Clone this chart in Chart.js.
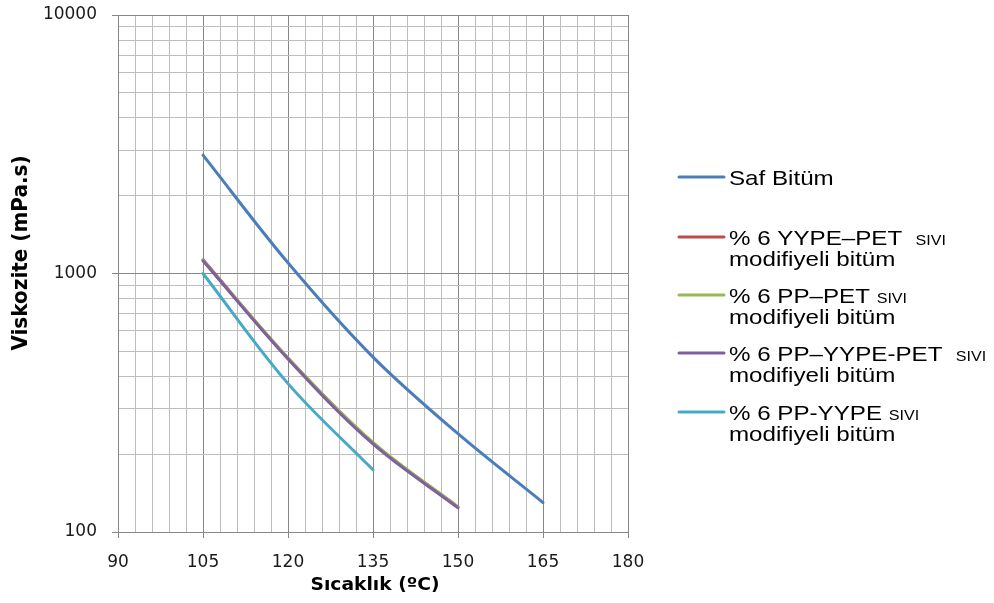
<!DOCTYPE html>
<html>
<head>
<meta charset="utf-8">
<script src="https://cdn.jsdelivr.net/npm/chart.js@4.4.0/dist/chart.umd.min.js"></script>
<style>
    html, body { margin: 0; padding: 0; background: #fff; }
</style>
</head>
<body>
<canvas id="viskChart" width="994" height="603"></canvas>
<script>
const temps = [105, 120, 135, 150, 165];
const safBitum = [2870, 1100, 475, 240, 130];
const yypePet = [1130, 471, 221, 125];
const ppPet = [1126, 471, 222, 125];
const ppYypePet = [1120, 467, 219, 124];
const ppYype = [1000, 375, 174];

const seriesLabels = [
    ["Saf Bitüm"],
    ["% 6 YYPE–PET  sıvı", "modifiyeli bitüm"],
    ["% 6 PP–PET sıvı", "modifiyeli bitüm"],
    ["% 6 PP–YYPE-PET  sıvı", "modifiyeli bitüm"],
    ["% 6 PP-YYPE sıvı", "modifiyeli bitüm"]
];
const seriesColors = ["#4A7EBB", "#BE4B48", "#98B954", "#7D60A0", "#46AAC5"];
const xTickLabels = [90, 105, 120, 135, 150, 165, 180];
const yTickLabels = [100, 1000, 10000];
const xTitle = "Sıcaklık (ºC)";
const yTitle = "Viskozite (mPa.s)";

const majorGrid = "#878787";
const minorGrid = "#bdbdbd";

// grid positions: every 3 degrees, log minors 2..9 per decade
const xGrid = [];
for (let t = 90; t <= 180; t += 3) xGrid.push(t);
const yGrid = [];
[100, 1000].forEach(d => { for (let k = 1; k < 10; k++) yGrid.push(d * k); });
yGrid.push(10000);

const allSeries = [safBitum, yypePet, ppPet, ppYypePet, ppYype];

const datasets = allSeries.map((vals, i) => ({
    label: seriesLabels[i].join(" "),
    data: vals.map((v, j) => ({ x: temps[j], y: v })),
    borderColor: seriesColors[i],
    backgroundColor: seriesColors[i],
    borderWidth: 3,
    borderCapStyle: "round",
    pointRadius: 0,
    tension: 0.35,
    fill: false,
    order: allSeries.length - i
}));

const overlay = {
    id: "overlay",
    afterDraw(chart) {
        const ctx = chart.ctx;
        ctx.save();
        ctx.fillStyle = "#000";
        ctx.font = 'bold 17px "DejaVu Sans"';
        ctx.textAlign = "center";
        ctx.textBaseline = "middle";
        ctx.save();
        ctx.translate(375, 586);
        ctx.scale(1.1, 1);
        ctx.fillText(xTitle, 0, 0);
        ctx.restore();

        ctx.save();
        ctx.font = 'bold 20px "DejaVu Sans"';
        ctx.translate(22, 253);
        ctx.scale(1.05, 1);
        ctx.rotate(-Math.PI / 2);
        ctx.fillText(yTitle, 0, 0);
        ctx.restore();

        // legend
        const rows = [177, 237, 295, 353, 412];
        ctx.textAlign = "left";
        ctx.textBaseline = "alphabetic";
        seriesLabels.forEach((lines, i) => {
            const y = rows[i];
            ctx.strokeStyle = seriesColors[i];
            ctx.lineWidth = 3;
            ctx.lineCap = "round";
            ctx.beginPath();
            ctx.moveTo(679, y);
            ctx.lineTo(724, y);
            ctx.stroke();

            lines.forEach((line, k) => {
                ctx.save();
                ctx.translate(729, y + 8 + k * 21);
                ctx.scale(1.15, 1);
                let cx = 0;
                line.split(/(sıvı)/).forEach(part => {
                    if (!part) return;
                    if (part === "sıvı") {
                        ctx.font = '14px "Liberation Sans"';
                        part = part.toLocaleUpperCase("tr-TR");
                    } else {
                        ctx.font = '21px "Liberation Sans"';
                    }
                    ctx.fillText(part, cx, 0);
                    cx += ctx.measureText(part).width;
                });
                ctx.restore();
            });
        });
        ctx.restore();
    }
};

new Chart(document.getElementById("viskChart"), {
    type: "line",
    data: { datasets: datasets },
    options: {
        responsive: false,
        animation: false,
        devicePixelRatio: 1,
        layout: { padding: { left: 0, top: 15, right: 366, bottom: 0 } },
        plugins: {
            legend: { display: false },
            tooltip: { enabled: false }
        },
        scales: {
            x: {
                type: "linear",
                min: 90,
                max: 180,
                afterBuildTicks: s => { s.ticks = xGrid.map(v => ({ value: v })); },
                afterFit: s => { s.height = 71; s.paddingLeft = 0; s.paddingRight = 0; },
                ticks: {
                    autoSkip: false,
                    maxRotation: 0,
                    padding: 14,
                    color: "#1a1a1a",
                    font: { family: "DejaVu Sans", size: 17 },
                    callback: v => xTickLabels.includes(v) ? String(v) : ""
                },
                grid: {
                    color: c => c.tick && xTickLabels.includes(c.tick.value) ? majorGrid : minorGrid,
                    tickColor: c => c.tick && xTickLabels.includes(c.tick.value) ? majorGrid : "rgba(0,0,0,0)",
                    tickLength: 6
                },
                border: { color: majorGrid }
            },
            y: {
                type: "logarithmic",
                min: 100,
                max: 10000,
                afterBuildTicks: s => { s.ticks = yGrid.map(v => ({ value: v })); },
                afterFit: s => { s.width = 118; s.paddingTop = 0; s.paddingBottom = 0; },
                ticks: {
                    autoSkip: false,
                    padding: 15,
                    color: "#1a1a1a",
                    font: { family: "DejaVu Sans", size: 17 },
                    callback: v => yTickLabels.includes(v) ? String(v) : ""
                },
                grid: {
                    color: c => c.tick && yTickLabels.includes(c.tick.value) ? majorGrid : minorGrid,
                    tickColor: c => c.tick && yTickLabels.includes(c.tick.value) ? majorGrid : "rgba(0,0,0,0)",
                    tickLength: 6
                },
                border: { color: majorGrid }
            }
        }
    },
    plugins: [overlay]
});
</script>
</body>
</html>
